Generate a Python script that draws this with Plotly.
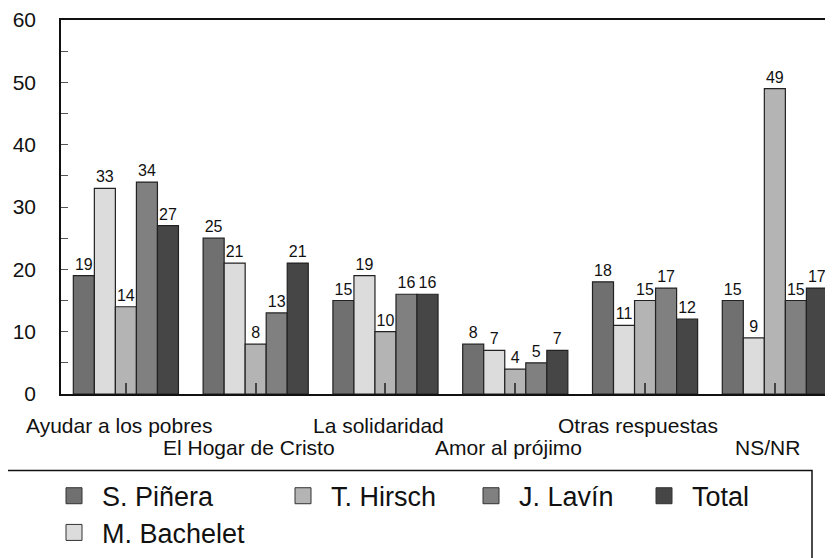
import plotly.graph_objects as go

categories = ["Ayudar a los pobres", "El Hogar de Cristo", "La solidaridad",
              "Amor al prójimo", "Otras respuestas", "NS/NR"]
series_names = ["S. Piñera", "M. Bachelet", "T. Hirsch", "J. Lavín", "Total"]
pinera = [19, 25, 15, 8, 18, 15]
bachelet = [33, 21, 19, 7, 11, 9]
hirsch = [14, 8, 10, 4, 15, 49]
lavin = [34, 13, 16, 5, 17, 15]
total = [27, 21, 16, 7, 12, 17]
series_values = [pinera, bachelet, hirsch, lavin, total]
colors = ["#707070", "#dcdcdc", "#b4b4b4", "#808080", "#464646"]
y_ticks = [0, 10, 20, 30, 40, 50, 60]

FONT = "Liberation Sans, Arial, sans-serif"
OFF = 8  # default body margin of the html page
W, H = 833 - OFF, 558 - OFF
L, R, T, B = 61 - OFF, 0, 17 - OFF, 558 - 394
PW, PH = W - L - R, H - T - B


def px_x(p):  # window pixel -> paper
    return (p - OFF - L) / PW


def px_y(p):
    return (H - B - (p - OFF)) / PH


fig = go.Figure()
xi = list(range(len(categories)))
for name, vals, col in zip(series_names, series_values, colors):
    fig.add_trace(go.Bar(
        x=xi, y=vals, name=name, marker=dict(color=col, line=dict(color="#222222", width=1.2)),
        text=[str(v) for v in vals], textposition="outside", cliponaxis=False,
        textfont=dict(family=FONT, size=16, color="#111111"), showlegend=False,
    ))

# legend entries (one legend per entry to reproduce the reference's placement)
legend_order = ["S. Piñera", "T. Hirsch", "J. Lavín", "Total", "M. Bachelet"]
legend_px = [(46, 497), (275, 497), (463, 497), (636, 497), (46, 534)]
legend_ids = ["legend", "legend2", "legend3", "legend4", "legend5"]
for name, lid in zip(legend_order, legend_ids):
    col = colors[series_names.index(name)]
    fig.add_trace(go.Scatter(
        x=[None], y=[None], mode="markers", name=name, legend=lid, showlegend=True,
        marker=dict(symbol="square", size=16, color=col, line=dict(color="#333333", width=1)),
    ))

layout_legends = {}
for lid, (lx, ly) in zip(legend_ids, legend_px):
    layout_legends[lid] = dict(
        x=px_x(lx), y=px_y(ly), xanchor="left", yanchor="middle",
        font=dict(family=FONT, size=27, color="#111111"), bgcolor="rgba(0,0,0,0)",
        itemwidth=46, itemsizing="trace", borderwidth=0,
    )

annotations = []
for i, c in enumerate(categories):
    annotations.append(dict(
        x=i, y=0, xref="x", yref="paper", text=c, showarrow=False,
        yanchor="middle", xanchor="center", xshift=-7,
        yshift=-(31 if i % 2 == 0 else 53),
        font=dict(family=FONT, size=21, color="#111111"),
    ))

fig.update_layout(
    width=W, height=H, margin=dict(l=L, r=R, t=T, b=B, pad=0),
    paper_bgcolor="white", plot_bgcolor="white",
    barmode="group", bargap=0.19, bargroupgap=0,
    font=dict(family=FONT, color="#111111"),
    xaxis=dict(
        range=[-0.5, 5.448], tickvals=xi, ticktext=[""] * len(xi),
        ticks="inside", ticklen=11, tickwidth=2, tickcolor="#444444",
        showline=True, linecolor="#111111", linewidth=1.5, mirror=True,
        showgrid=False, zeroline=False,
    ),
    yaxis=dict(
        range=[0, 60], tickvals=y_ticks, ticks="inside", ticklen=7, tickwidth=1,
        tickcolor="#555555", minor=dict(dtick=5, ticks="inside", ticklen=7, tickcolor="#555555", tickwidth=1),
        showline=True, linecolor="#111111", linewidth=1.5, showgrid=False, zeroline=False,
        tickfont=dict(family=FONT, size=21, color="#111111"), ticklabelstandoff=19,
        ticklabeloverflow="allow",
    ),
    annotations=annotations,
    shapes=[dict(type="rect", xref="paper", yref="paper",
                 x0=px_x(6), x1=px_x(812), y0=px_y(471), y1=px_y(580),
                 line=dict(color="#111111", width=1.5), fillcolor="rgba(0,0,0,0)")],
    **layout_legends,
)

fig.write_html("out.html")
